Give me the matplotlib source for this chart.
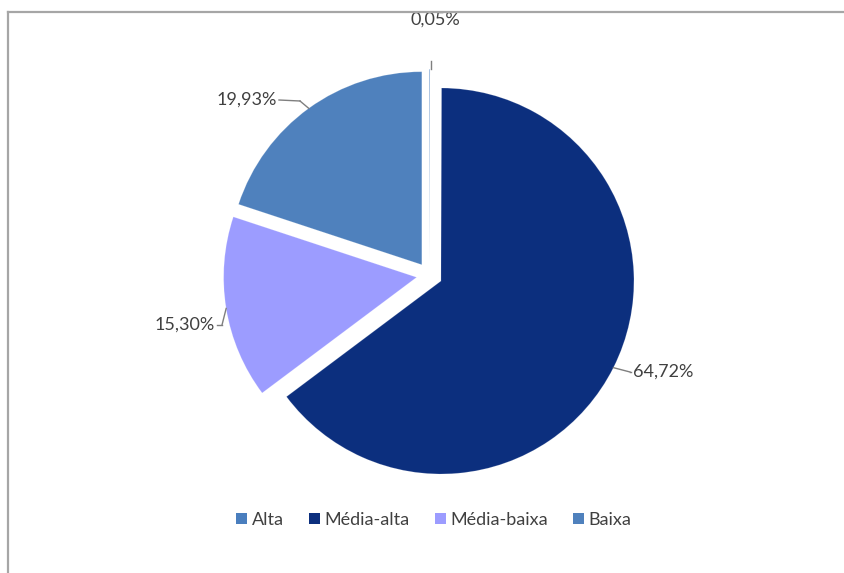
import matplotlib.pyplot as plt
from matplotlib.patches import Patch
from matplotlib.lines import Line2D
import numpy as np

labels = ["Alta", "Média-alta", "Média-baixa", "Baixa"]
values = [0.05, 64.72, 15.30, 19.93]
value_text = ["0,05%", "64,72%", "15,30%", "19,93%"]
colors = ["#4A7EBE", "#0C2F7E", "#9C9CFF", "#4F81BD"]

W, H = 844, 573
R = 193.0          # pie radius in px
CX, CY = 429.4, 275.2   # pie centre in px (from top-left)

plt.rcParams['font.family'] = ['Lato', 'DejaVu Sans']

fig = plt.figure(figsize=(W / 100, H / 100), dpi=100)
ax = fig.add_axes([0, 0, 1, 1])

explode = [0.067] * len(values)
wedges, _ = ax.pie(values, colors=colors, startangle=90, counterclock=False,
                   explode=explode, radius=1.0,
                   wedgeprops=dict(linewidth=0.6, edgecolor="#ffffff30"))

ax.set_xlim(-CX / R, (W - CX) / R)
ax.set_ylim(-(H - CY) / R, CY / R)
ax.set_aspect("equal")
ax.axis("off")


def px(x, y):
    return ((x - CX) / R, (CY - y) / R)


# label text positions (px) and alignment
label_pos = [(435, 20, "center"), (633, 372, "left"),
             (215, 325, "right"), (277, 100, "right")]
# leader elbow points (px)
elbows = [(431, 61), (630, 372), (222, 325), (300, 101)]

for w, txt, (lx, ly, ha), (ex, ey) in zip(wedges, value_text, label_pos, elbows):
    ang = np.deg2rad((w.theta1 + w.theta2) / 2)
    cx, cy = w.center
    tip = (cx + 1.0 * np.cos(ang), cy + 1.0 * np.sin(ang))
    if ha == "center":
        tip = (px(ex, 0)[0], tip[1])
    tx, ty = px(lx, ly)
    ax.text(tx, ty, txt, ha=ha, va="center", fontsize=13, color="#404040")
    e = px(ex, ey)
    ax.plot([e[0], tip[0]], [e[1], tip[1]], color="#7f7f7f", lw=1.0)
    if ha != "center":
        start = px(lx + (-2 if ha == "left" else 2), ly)
        ax.plot([start[0], e[0]], [start[1], e[1]], color="#7f7f7f", lw=1.0)

handles = [Patch(facecolor=c, edgecolor="none") for c in colors]
fig.legend(handles, labels, loc="center", bbox_to_anchor=(0.514, 1 - 520 / H),
           ncol=4, frameon=False, fontsize=13, handlelength=0.6,
           handleheight=0.6, handletextpad=0.25, columnspacing=1.4,
           labelcolor="#404040")

# chart area border (only top and left visible)
fig.add_artist(Line2D([8 / W, 1], [1 - 12 / H, 1 - 12 / H], color="#a6a6a6", lw=1.6))
fig.add_artist(Line2D([8 / W, 8 / W], [0, 1 - 12 / H], color="#a6a6a6", lw=1.6))

fig.savefig("out.png", dpi=100)
